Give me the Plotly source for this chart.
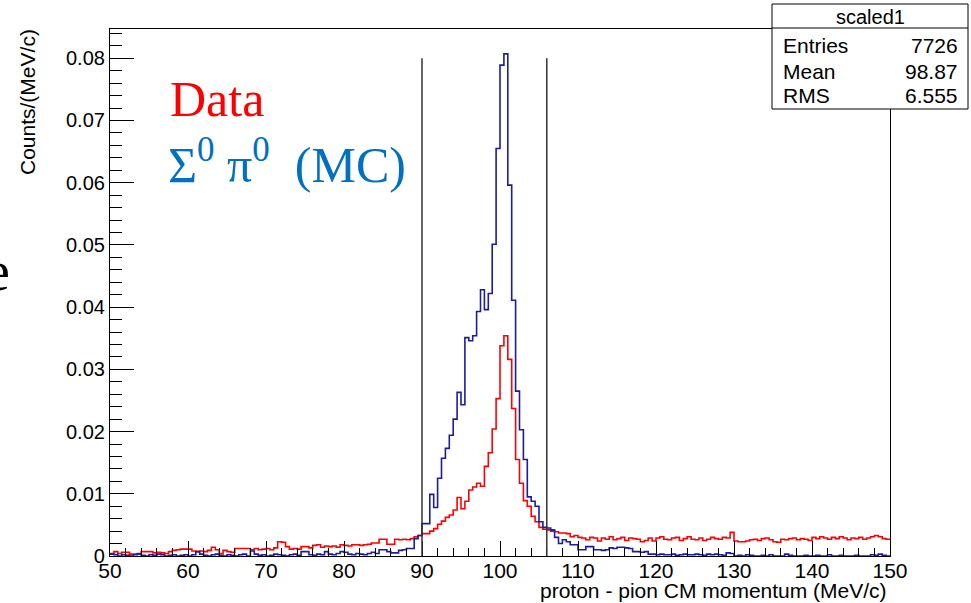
import numpy as np
import plotly.graph_objects as go

# ---------------- data (bin width 0.5 MeV/c, 50..150) ----------------
bin_lo, bin_hi, bin_w = 50.0, 150.0, 0.5

data_50_68 = [0.0004, 0.0007, 0.0004, 0.0006, 0.0006, 0.0003, 0.0003, 0.0004, 0.0007, 0.0007,
              0.0007, 0.0005, 0.0006, 0.0005, 0.0004, 0.0007, 0.0009, 0.0010, 0.0011, 0.0011,
              0.0011, 0.0008, 0.0007, 0.0008, 0.0007, 0.0009, 0.0014, 0.0010, 0.0004, 0.0009,
              0.0007, 0.0006, 0.0012, 0.0012, 0.0012, 0.0012]
data_68_84 = [0.0010, 0.0012, 0.0010, 0.0011, 0.0012, 0.0010, 0.0013, 0.0023, 0.0022, 0.0015,
              0.0011, 0.0012, 0.0011, 0.0015, 0.0015, 0.0013, 0.0017, 0.0018, 0.0014, 0.0016,
              0.0015, 0.0016, 0.0014, 0.0018, 0.0017, 0.0016, 0.0018, 0.0018, 0.0017, 0.0018,
              0.0019, 0.0021]
data_84_90 = [0.0021, 0.0027, 0.0027, 0.0019, 0.0019, 0.0027, 0.0026, 0.0027, 0.0026, 0.0028,
              0.0031, 0.0033]
data_90_106 = [0.0036, 0.0036, 0.0040, 0.0044, 0.0051, 0.0056, 0.0062, 0.0066, 0.0074, 0.0094,
               0.0076, 0.0088, 0.0106, 0.0111, 0.0117, 0.0112, 0.0144, 0.0166, 0.0204, 0.0253,
               0.0338, 0.0354, 0.0316, 0.0237, 0.0155, 0.0117, 0.0089, 0.0080, 0.0064, 0.0055,
               0.0046, 0.0043]
data_106_110 = [0.0042, 0.0040, 0.0039, 0.0037, 0.0037, 0.0036, 0.0031, 0.0033]
data_110_120 = [0.0030, 0.0029, 0.0026, 0.0030, 0.0029, 0.0024, 0.0029, 0.0027, 0.0031, 0.0026,
                0.0028, 0.0030, 0.0025, 0.0029, 0.0028, 0.0027, 0.0023, 0.0025, 0.0029, 0.0024]
data_120_130 = [0.0029, 0.0031, 0.0027, 0.0026, 0.0029, 0.0030, 0.0025, 0.0028, 0.0031, 0.0027,
                0.0026, 0.0029, 0.0025, 0.0027, 0.0030, 0.0028, 0.0027, 0.0030, 0.0029, 0.0038]
data_130_140 = [0.0024, 0.0023, 0.0023, 0.0024, 0.0026, 0.0027, 0.0025, 0.0028, 0.0029, 0.0026,
                0.0023, 0.0022, 0.0027, 0.0026, 0.0028, 0.0029, 0.0026, 0.0028, 0.0027, 0.0025]
data_140_150 = [0.0030, 0.0028, 0.0031, 0.0029, 0.0027, 0.0030, 0.0028, 0.0031, 0.0029, 0.0026,
                0.0029, 0.0028, 0.0030, 0.0027, 0.0029, 0.0031, 0.0033, 0.0031, 0.0028, 0.0027]

mc_50_84 = [0.0003, 0.0002, 0.0000, 0.0002, 0.0001, 0.0000, 0.0002, 0.0003, 0.0001, 0.0000,
            0.0002, 0.0001, 0.0003, 0.0002, 0.0000, 0.0001, 0.0002, 0.0000, 0.0001, 0.0002,
            0.0000, 0.0002, 0.0007, 0.0003, 0.0001, 0.0000, 0.0002, 0.0003, 0.0001, 0.0000,
            0.0002, 0.0001, 0.0000, 0.0002, 0.0003, 0.0000, 0.0008, 0.0003, 0.0001, 0.0002,
            0.0000, 0.0001, 0.0003, 0.0002, 0.0001, 0.0000, 0.0002, 0.0003, 0.0001, 0.0007,
            0.0007, 0.0002, 0.0001, 0.0003, 0.0002, 0.0007, 0.0003, 0.0002, 0.0004, 0.0007,
            0.0006, 0.0003, 0.0002, 0.0004, 0.0003, 0.0002, 0.0004, 0.0006]
mc_84_90 = [0.0004, 0.0010, 0.0010, 0.0007, 0.0005, 0.0005, 0.0009, 0.0010, 0.0012, 0.0012,
            0.0028, 0.0033]
mc_90_106 = [0.0052, 0.0052, 0.0099, 0.0078, 0.0125, 0.0157, 0.0173, 0.0194, 0.0220, 0.0263,
             0.0243, 0.0351, 0.0346, 0.0354, 0.0393, 0.0428, 0.0396, 0.0422, 0.0501, 0.0655,
             0.0789, 0.0807, 0.0596, 0.0411, 0.0265, 0.0203, 0.0155, 0.0095, 0.0088, 0.0080,
             0.0055, 0.0046]
mc_106_110 = [0.0045, 0.0042, 0.0030, 0.0020, 0.0026, 0.0023, 0.0018, 0.0018]
mc_110_120 = [0.0010, 0.0010, 0.0015, 0.0015, 0.0010, 0.0010, 0.0009, 0.0010, 0.0013, 0.0012,
              0.0014, 0.0014, 0.0013, 0.0012, 0.0007, 0.0007, 0.0006, 0.0007, 0.0003, 0.0003]
mc_120_130 = [0.0002, 0.0003, 0.0002, 0.0002, 0.0003, 0.0001, 0.0002, 0.0003, 0.0002, 0.0002,
              0.0003, 0.0002, 0.0001, 0.0003, 0.0002, 0.0003, 0.0002, 0.0001, 0.0005, 0.0004]
mc_130_140 = [0.0000, 0.0001, 0.0000, 0.0002, 0.0001, 0.0000, 0.0000, 0.0001, 0.0000, 0.0002,
              0.0000, 0.0000, 0.0000, 0.0003, 0.0001, 0.0000, 0.0000, 0.0000, 0.0001, 0.0000]
mc_140_150 = [0.0000, 0.0001, 0.0000, 0.0000, 0.0002, 0.0000, 0.0000, 0.0001, 0.0000, 0.0000,
              0.0000, 0.0001, 0.0000, 0.0000, 0.0000, 0.0002, 0.0001, 0.0003, 0.0001, 0.0000]

cut_values = [90, 106]
cut_height = 0.08

y_tick_vals = [0, 0.01, 0.02, 0.03, 0.04, 0.05, 0.06, 0.07, 0.08]
y_tick_text = ["0", "0.01", "0.02", "0.03", "0.04", "0.05", "0.06", "0.07", "0.08"]
x_tick_vals = [50, 60, 70, 80, 90, 100, 110, 120, 130, 140, 150]

stats_title = "scaled1"
stats_names = ["Entries", "Mean", "RMS"]
stats_values = ["7726", "98.87", "6.555"]

# ---------------- assemble ----------------
data_counts = (data_50_68 + data_68_84 + data_84_90 + data_90_106 + data_106_110 +
               data_110_120 + data_120_130 + data_130_140 + data_140_150)
mc_counts = (mc_50_84 + mc_84_90 + mc_90_106 + mc_106_110 +
             mc_110_120 + mc_120_130 + mc_130_140 + mc_140_150)

n_bins = int(round((bin_hi - bin_lo) / bin_w))
edges = bin_lo + bin_w * np.arange(n_bins + 1)


def step_y(vals):
    return list(vals) + [vals[-1]]


W, H = 971, 603
L, R, T, B = 110, 890, 29, 556


def pxx(p):
    return (p - L) / (R - L)


def pxy(p):
    return (B - p) / (B - T)


fig = go.Figure()
fig.add_trace(go.Scatter(x=edges, y=step_y(data_counts), mode="lines",
                         line=dict(color="#ff0000", width=1.6, shape="hv"),
                         hoverinfo="skip", showlegend=False))
fig.add_trace(go.Scatter(x=edges, y=step_y(mc_counts), mode="lines",
                         line=dict(color="#1c1ca0", width=1.6, shape="hv"),
                         hoverinfo="skip", showlegend=False))

shapes = []
for c in cut_values:
    shapes.append(dict(type="line", xref="x", yref="y", x0=c, x1=c, y0=0, y1=cut_height,
                       line=dict(color="#333333", width=1.5)))

# stats box
bx0, bx1, by0, by1, bdiv = 772, 968, 4, 109, 28
shapes.append(dict(type="rect", xref="paper", yref="paper", x0=pxx(bx0), x1=pxx(bx1),
                   y0=pxy(by1), y1=pxy(by0), fillcolor="white",
                   line=dict(color="black", width=1), layer="above"))
shapes.append(dict(type="line", xref="paper", yref="paper", x0=pxx(bx0), x1=pxx(bx1),
                   y0=pxy(bdiv), y1=pxy(bdiv), line=dict(color="black", width=1), layer="above"))

sans = "Liberation Sans, Arial, Helvetica, sans-serif"
serif = "Liberation Serif, Times New Roman, serif"
FS = 21

ann = []
ann.append(dict(text=stats_title, xref="paper", yref="paper", x=pxx((bx0 + bx1) / 2),
                y=pxy(17), xanchor="center", yanchor="middle", showarrow=False,
                font=dict(family=sans, size=20, color="black")))
row_y = [46, 71, 96]
for name, val, ry in zip(stats_names, stats_values, row_y):
    ann.append(dict(text=name, xref="paper", yref="paper", x=pxx(781), y=pxy(ry),
                    xanchor="left", yanchor="middle", showarrow=False,
                    font=dict(family=sans, size=FS, color="black")))
    ann.append(dict(text=val, xref="paper", yref="paper", x=pxx(960), y=pxy(ry),
                    xanchor="right", yanchor="middle", showarrow=False,
                    font=dict(family=sans, size=FS, color="black")))

# axis titles
ann.append(dict(text="proton - pion CM momentum (MeV/c)", xref="paper", yref="paper",
                x=pxx(889), y=pxy(590), xanchor="right", yanchor="middle", showarrow=False,
                font=dict(family=sans, size=FS, color="black")))
ann.append(dict(text="Counts/(MeV/c)", xref="paper", yref="paper", textangle=-90,
                x=pxx(28), y=pxy(27), xanchor="center", yanchor="top", showarrow=False,
                font=dict(family=sans, size=FS, color="black")))

# legend-like labels
ann.append(dict(text="Data", xref="paper", yref="paper", x=pxx(168), y=pxy(99),
                xanchor="left", yanchor="middle", showarrow=False,
                font=dict(family=serif, size=50, color="#ff0000")))
ann.append(dict(text="\u03a3<sup>0</sup> \u03c0<sup>0</sup>  (MC)", xref="paper", yref="paper",
                x=pxx(166), y=pxy(161), xanchor="left", yanchor="middle", showarrow=False,
                font=dict(family=serif, size=50, color="#0070c0")))
# cut-off slide letter at the left edge
ann.append(dict(text="e", xref="paper", yref="paper", x=pxx(-17), y=pxy(271),
                xanchor="left", yanchor="middle", showarrow=False,
                font=dict(family=serif, size=56, color="black")))

fig.update_layout(
    width=W, height=H,
    margin=dict(l=L, r=W - R, t=T, b=H - B, pad=0),
    paper_bgcolor="white", plot_bgcolor="white",
    shapes=shapes, annotations=ann,
    xaxis=dict(range=[bin_lo, bin_hi], showgrid=False, zeroline=False,
               showline=True, linecolor="black", linewidth=1.2, mirror=True,
               ticks="inside", ticklen=15, tickwidth=1.2, tickcolor="black",
               tickvals=x_tick_vals, ticklabelstandoff=-4,
               tickfont=dict(family=sans, size=FS, color="black"),
               minor=dict(ticks="inside", ticklen=8, tickwidth=1.2, tickcolor="black",
                          dtick=2, showgrid=False)),
    yaxis=dict(range=[0, 0.0847], showgrid=False, zeroline=False,
               showline=True, linecolor="black", linewidth=1.2, mirror=True,
               ticks="inside", ticklen=24, tickwidth=1.2, tickcolor="black",
               tickvals=y_tick_vals, ticktext=y_tick_text,
               tickfont=dict(family=sans, size=20, color="black"),
               minor=dict(ticks="inside", ticklen=12, tickwidth=1.2, tickcolor="black",
                          dtick=0.002, showgrid=False)),
)

fig.write_html("out.html")
